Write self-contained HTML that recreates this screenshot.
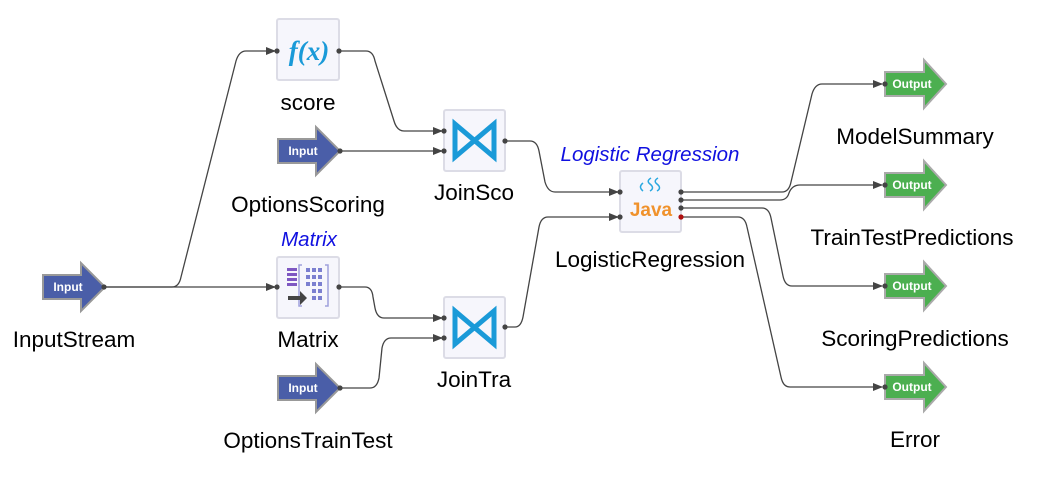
<!DOCTYPE html>
<html><head><meta charset="utf-8"><style>
html,body{margin:0;padding:0;background:#fff;}
svg{display:block;}
text{font-family:"Liberation Sans","DejaVu Sans",sans-serif;}
.lbl{font-size:22.5px;fill:#000;text-anchor:middle;}
.ann{font-size:20.5px;fill:#1010e0;font-style:italic;text-anchor:middle;}
.ln{fill:none;stroke:#444;stroke-width:1.3;}
.box{fill:#f6f6fc;stroke:#dcdce6;stroke-width:2;}
.it{font-size:12px;font-weight:bold;fill:#fff;text-anchor:middle;}
</style></head><body>
<svg width="1038" height="478" viewBox="0 0 1038 478" xmlns="http://www.w3.org/2000/svg">
<defs>
<marker id="ah" markerWidth="10" markerHeight="8" refX="9" refY="4" orient="auto" markerUnits="userSpaceOnUse">
<path d="M0,0 L10,4 L0,8 z" fill="#444"/></marker>
<g id="inp"><path d="M0,-12 H38 V-24 L62,0 L38,24 V12 H0 Z" fill="#4a5ea8" stroke="#999" stroke-width="2"/><text x="25" y="4" class="it">Input</text></g>
<g id="outp"><path d="M0,-12 H39 V-24 L61,0 L39,24 V12 H0 Z" fill="#4caf50" stroke="#aaa" stroke-width="2"/><text x="27" y="4" class="it">Output</text></g>
</defs>

<g class="ln">
<path d="M104,287 H172 Q179,287 181,277 L236,61 Q239,51 246,51 H275" marker-end="url(#ah)"/>
<path d="M104,287 H275" marker-end="url(#ah)"/>
<path d="M339,51 H366 Q373,51 375,61 L394,121 Q397,131 404,131 H442" marker-end="url(#ah)"/>
<path d="M340,151 H442" marker-end="url(#ah)"/>
<path d="M505,141 H530 Q537,141 539,151 L545,182 Q548,192 555,192 H618" marker-end="url(#ah)"/>
<path d="M339,287 H365 Q372,287 373,297 L375,308 Q377,318 384,318 H442" marker-end="url(#ah)"/>
<path d="M340,388 H370 Q377,388 379,378 L382,348 Q384,338 391,338 H442" marker-end="url(#ah)"/>
<path d="M505,327 H515 Q521,327 523,317 L539,227 Q541,217 548,217 H618" marker-end="url(#ah)"/>
<path d="M682,192 H782 Q789,192 791,182 L812,94 Q815,84 822,84 H882" marker-end="url(#ah)"/>
<path d="M682,200 H780 Q787,200 789,193 Q792,185 800,185 H882" marker-end="url(#ah)"/>
<path d="M682,208 H762 Q769,208 771,218 L783,276 Q785,286 792,286 H882" marker-end="url(#ah)"/>
<path d="M682,217 H738 Q745,217 747,227 L781,377 Q783,387 790,387 H882" marker-end="url(#ah)"/>
</g>

<use href="#inp" x="43" y="287"/>
<use href="#inp" x="278" y="151"/>
<use href="#inp" x="278" y="388"/>

<rect x="277" y="19" width="62" height="61" class="box" rx="2"/>
<text x="309" y="60" font-style="italic" font-weight="bold" font-size="27" fill="#1a9ad8" text-anchor="middle" style="font-family:'Liberation Serif',serif">f(x)</text>

<g id="join">
<rect x="444" y="110" width="61" height="61" class="box" rx="2"/>
<path d="M455,124 L494,157 V124 L455,157 Z" fill="none" stroke="#1a9ad8" stroke-width="5" stroke-linejoin="miter"/>
</g>
<use href="#join" y="187"/>

<rect x="277" y="257" width="62" height="61" class="box" rx="2"/>
<g fill="#7e57c2">
<rect x="287" y="268" width="10" height="3"/><rect x="287" y="273" width="10" height="3"/><rect x="287" y="278" width="10" height="3"/><rect x="287" y="283" width="10" height="3"/>
</g>
<path d="M302,265 h-3 v41 h3 M325,265 h3 v41 h-3" fill="none" stroke="#9fa0dc" stroke-width="1.5"/>
<g fill="#7b7fd0">
<rect x="306" y="268" width="4" height="4"/><rect x="312" y="268" width="4" height="4"/><rect x="318" y="268" width="4" height="4"/>
<rect x="306" y="275" width="4" height="4"/><rect x="312" y="275" width="4" height="4"/><rect x="318" y="275" width="4" height="4"/>
<rect x="306" y="282" width="4" height="4"/><rect x="312" y="282" width="4" height="4"/><rect x="318" y="282" width="4" height="4"/>
<rect x="312" y="289" width="4" height="4"/><rect x="318" y="289" width="4" height="4"/>
<rect x="312" y="296" width="4" height="4"/><rect x="318" y="296" width="4" height="4"/>
</g>
<path d="M288,296 H300 V291 L307,298 L300,305 V300 H288 Z" fill="#444"/>

<rect x="620" y="171" width="61" height="61" class="box" rx="2"/>
<path d="M643,191 q-5,-4 0,-8 M650,191 q5,-3 0,-7 q-4,-3 1,-6 M657,191 q5,-3 0,-7 q-4,-3 1,-6" fill="none" stroke="#29a8e0" stroke-width="1.5"/>
<text x="651" y="216" font-size="19" font-weight="bold" fill="#f0922c" text-anchor="middle">Java</text>

<use href="#outp" x="885" y="84"/>
<use href="#outp" x="885" y="185"/>
<use href="#outp" x="885" y="286"/>
<use href="#outp" x="885" y="387"/>

<g fill="#444">
<circle cx="104" cy="287" r="2.6"/>
<circle cx="277" cy="51" r="2.6"/><circle cx="339" cy="51" r="2.6"/>
<circle cx="340" cy="151" r="2.6"/>
<circle cx="277" cy="287" r="2.6"/><circle cx="339" cy="287" r="2.6"/>
<circle cx="340" cy="388" r="2.6"/>
<circle cx="444" cy="131" r="2.6"/><circle cx="444" cy="151" r="2.6"/><circle cx="505" cy="141" r="2.6"/>
<circle cx="444" cy="318" r="2.6"/><circle cx="444" cy="338" r="2.6"/><circle cx="505" cy="327" r="2.6"/>
<circle cx="620" cy="192" r="2.6"/><circle cx="620" cy="217" r="2.6"/>
<circle cx="681" cy="192" r="2.6"/><circle cx="681" cy="200" r="2.6"/><circle cx="681" cy="208" r="2.6"/>
<circle cx="885" cy="84" r="2.6"/><circle cx="885" cy="185" r="2.6"/><circle cx="885" cy="286" r="2.6"/><circle cx="885" cy="387" r="2.6"/>
</g>
<circle cx="681" cy="217" r="2.6" fill="#b01010"/>

<text x="74" y="347" class="lbl">InputStream</text>
<text x="308" y="110" class="lbl">score</text>
<text x="308" y="212" class="lbl">OptionsScoring</text>
<text x="309" y="246" class="ann">Matrix</text>
<text x="308" y="347" class="lbl">Matrix</text>
<text x="308" y="448" class="lbl">OptionsTrainTest</text>
<text x="474" y="200" class="lbl">JoinSco</text>
<text x="474" y="387" class="lbl">JoinTra</text>
<text x="650" y="161" class="ann">Logistic Regression</text>
<text x="650" y="267" class="lbl">LogisticRegression</text>
<text x="915" y="144" class="lbl">ModelSummary</text>
<text x="912" y="245" class="lbl">TrainTestPredictions</text>
<text x="915" y="346" class="lbl">ScoringPredictions</text>
<text x="915" y="447" class="lbl">Error</text>
</svg>
</body></html>
